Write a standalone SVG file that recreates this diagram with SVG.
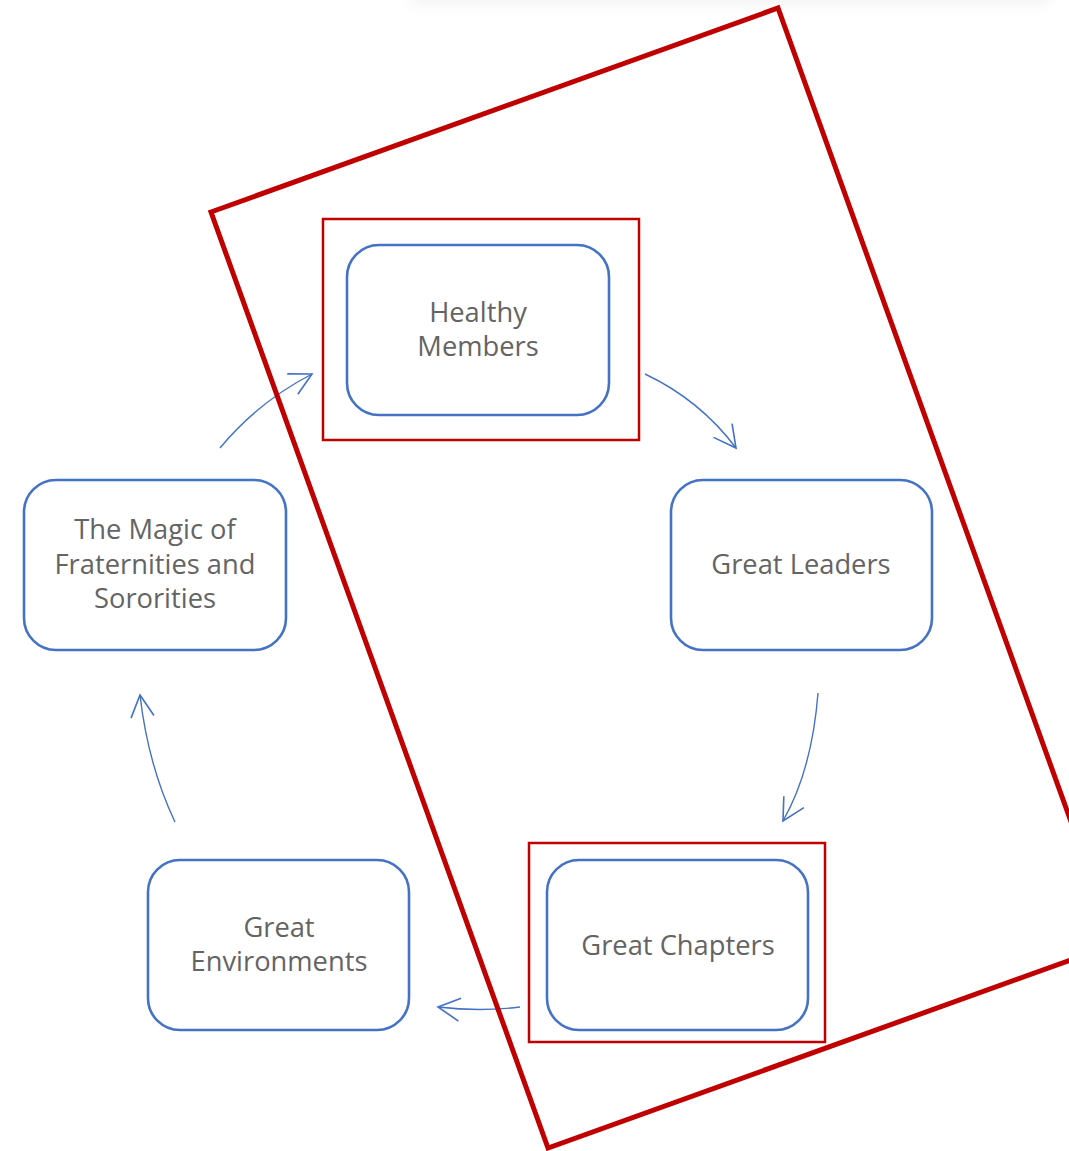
<svg xmlns="http://www.w3.org/2000/svg" width="1069" height="1151" viewBox="0 0 1069 1151">
<defs>
<style>
.node rect.box{fill:#fff;stroke:#4472C4;stroke-width:2.6}
.node text{font-family:"Open Sans","Liberation Sans",sans-serif;font-size:27.3px;fill:#646464;text-anchor:middle}
.hl{fill:none;stroke:#C00000;stroke-width:2.5}
.conn path{fill:none;stroke:#4472C4;stroke-width:1.4;marker-end:url(#arr)}
</style>
<marker id="arr" markerUnits="userSpaceOnUse" markerWidth="30" markerHeight="30" viewBox="-22 -12 26 24" refX="0" refY="0" orient="auto">
<path d="M-19,-10 L0,0 L-19,10" fill="none" stroke="#4472C4" stroke-width="1.4"/>
</marker>
<filter id="blur" x="-20%" y="-200%" width="140%" height="500%"><feGaussianBlur stdDeviation="7"/></filter>
</defs>
<rect width="1069" height="1151" fill="#fff"/>
<rect x="410" y="-22" width="640" height="28" fill="#000" opacity="0.04" filter="url(#blur)"/>

<g class="conn">
<path d="M220,448 Q258,402 312,374"/>
<path d="M645,374 Q700,400 736,448"/>
<path d="M818,693 Q812,770 783,821"/>
<path d="M520,1007 Q480,1012 438,1007"/>
<path d="M175,822 Q148,765 140,695"/>
</g>

<g id="node-healthy" class="node">
<rect class="hl" x="323" y="219" width="316" height="221"/>
<rect class="box" x="347" y="245" width="262" height="170" rx="32"/>
<text x="478" y="322">Healthy</text>
<text x="478" y="356">Members</text>
</g>
<g id="node-leaders" class="node">
<rect class="box" x="671" y="480" width="261" height="170" rx="32"/>
<text x="801" y="574">Great Leaders</text>
</g>
<g id="node-chapters" class="node">
<rect class="hl" x="529" y="843" width="296" height="199"/>
<rect class="box" x="547" y="860" width="261" height="170" rx="32"/>
<text x="678" y="955">Great Chapters</text>
</g>
<g id="node-environments" class="node">
<rect class="box" x="148" y="860" width="261" height="170" rx="32"/>
<text x="279" y="937">Great</text>
<text x="279" y="971">Environments</text>
</g>
<g id="node-magic" class="node">
<rect class="box" x="24" y="480" width="262" height="170" rx="32"/>
<text x="155" y="539">The Magic of</text>
<text x="155" y="574">Fraternities and</text>
<text x="155" y="608">Sororities</text>
</g>

<polygon points="211,212 778,8 1115,944 548,1148" fill="none" stroke="#C00000" stroke-width="5" stroke-linejoin="miter"/>
</svg>
